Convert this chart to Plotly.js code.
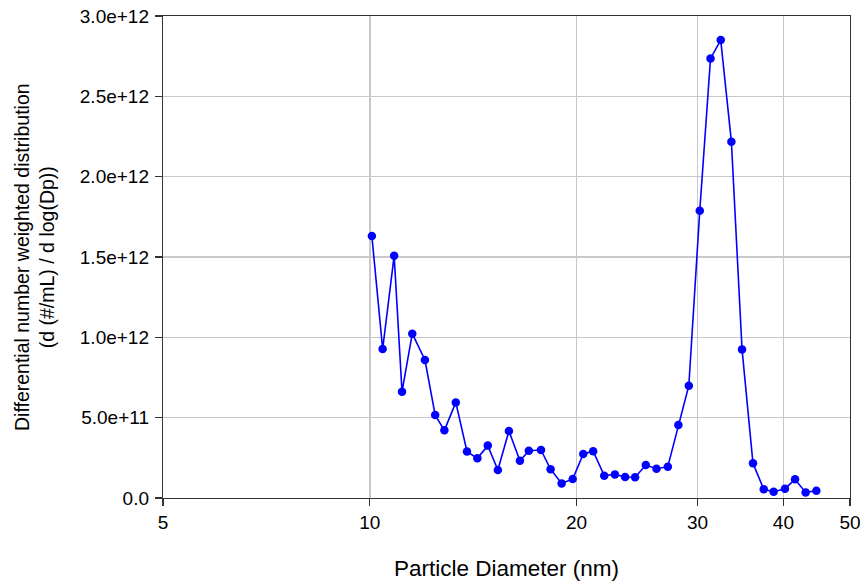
<!DOCTYPE html>
<html>
<head>
<meta charset="utf-8">
<script src="https://cdn.plot.ly/plotly-3.0.1.min.js"></script>
<style>html,body{margin:0;padding:0;background:#fff;}#chart{width:864px;height:582px;}</style>
</head>
<body>
<div id="chart"></div>
<script>
// Particle diameters (nm)
const diameters = [10.07, 10.44, 10.85, 11.14, 11.53, 12.03, 12.45, 12.84, 13.34, 13.85,
  14.34, 14.85, 15.36, 15.94, 16.54, 17.04, 17.75, 18.33, 19.02, 19.74,
  20.45, 21.14, 21.94, 22.74, 23.53, 24.33, 25.22, 26.14, 27.15, 28.13,
  29.13, 30.22, 31.33, 32.42, 33.60, 34.82, 36.12, 37.45, 38.71, 40.21,
  41.59, 43.09, 44.67];
// Differential number weighted distribution
const distribution = [1.630e12, 0.927e12, 1.508e12, 0.662e12, 1.023e12, 0.859e12, 0.516e12, 0.421e12, 0.595e12, 0.290e12,
  0.247e12, 0.326e12, 0.174e12, 0.417e12, 0.232e12, 0.294e12, 0.299e12, 0.179e12, 0.091e12, 0.118e12,
  0.274e12, 0.291e12, 0.139e12, 0.147e12, 0.131e12, 0.129e12, 0.205e12, 0.182e12, 0.195e12, 0.454e12,
  0.699e12, 1.788e12, 2.736e12, 2.850e12, 2.217e12, 0.925e12, 0.216e12, 0.054e12, 0.039e12, 0.058e12,
  0.116e12, 0.035e12, 0.045e12];
const xTickVals = [5, 10, 20, 30, 40, 50];
const xTickText = ['5', '10', '20', '30', '40', '50'];
const yTickVals = [0, 0.5e12, 1.0e12, 1.5e12, 2.0e12, 2.5e12, 3.0e12];
const yTickText = ['0.0', '5.0e+11', '1.0e+12', '1.5e+12', '2.0e+12', '2.5e+12', '3.0e+12'];
const xTitle = 'Particle Diameter (nm)';
const yTitle = 'Differential number weighted distribution<br>(d (#/mL) / d log(Dp))';

const trace = {
  x: diameters, y: distribution, type: 'scatter', mode: 'lines+markers',
  line: {color: '#0000ff', width: 1.6},
  marker: {color: '#0000ff', size: 8.5},
  showlegend: false
};
const layout = {
  width: 864, height: 582,
  margin: {l: 163, r: 14, t: 16, b: 84},
  paper_bgcolor: '#fff', plot_bgcolor: '#fff',
  font: {family: 'Liberation Sans', color: '#000', size: 18},
  xaxis: {
    type: 'log', range: [Math.log10(5), Math.log10(50)],
    tickvals: xTickVals, ticktext: xTickText,
    showgrid: true, gridcolor: '#c8c8c8', gridwidth: 1.5,
    showline: true, linecolor: '#333', linewidth: 1.2, mirror: true,
    ticks: 'outside', ticklen: 7, tickcolor: '#333', tickwidth: 1.2,
    tickfont: {size: 19}, zeroline: false
  },
  yaxis: {
    range: [0, 3.0e12], tickvals: yTickVals, ticktext: yTickText,
    showgrid: true, gridcolor: '#c8c8c8', gridwidth: 1.5,
    showline: true, linecolor: '#333', linewidth: 1.2, mirror: true,
    ticks: 'outside', ticklen: 7, tickcolor: '#333', tickwidth: 1.2,
    tickfont: {size: 19}, zeroline: false, ticklabelstandoff: 2
  },
  annotations: [
    {text: xTitle, xref: 'paper', yref: 'paper', x: 0.5, y: 0, xanchor: 'center', yanchor: 'middle',
     yshift: -70, showarrow: false, font: {size: 22.5}},
    {text: yTitle, xref: 'paper', yref: 'paper', x: 0, y: 0.5, xanchor: 'center', yanchor: 'middle',
     xshift: -129, textangle: -90, showarrow: false, font: {size: 19.5}}
  ]
};
Plotly.newPlot('chart', [trace], layout, {displayModeBar: false, staticPlot: true});
</script>
</body>
</html>
